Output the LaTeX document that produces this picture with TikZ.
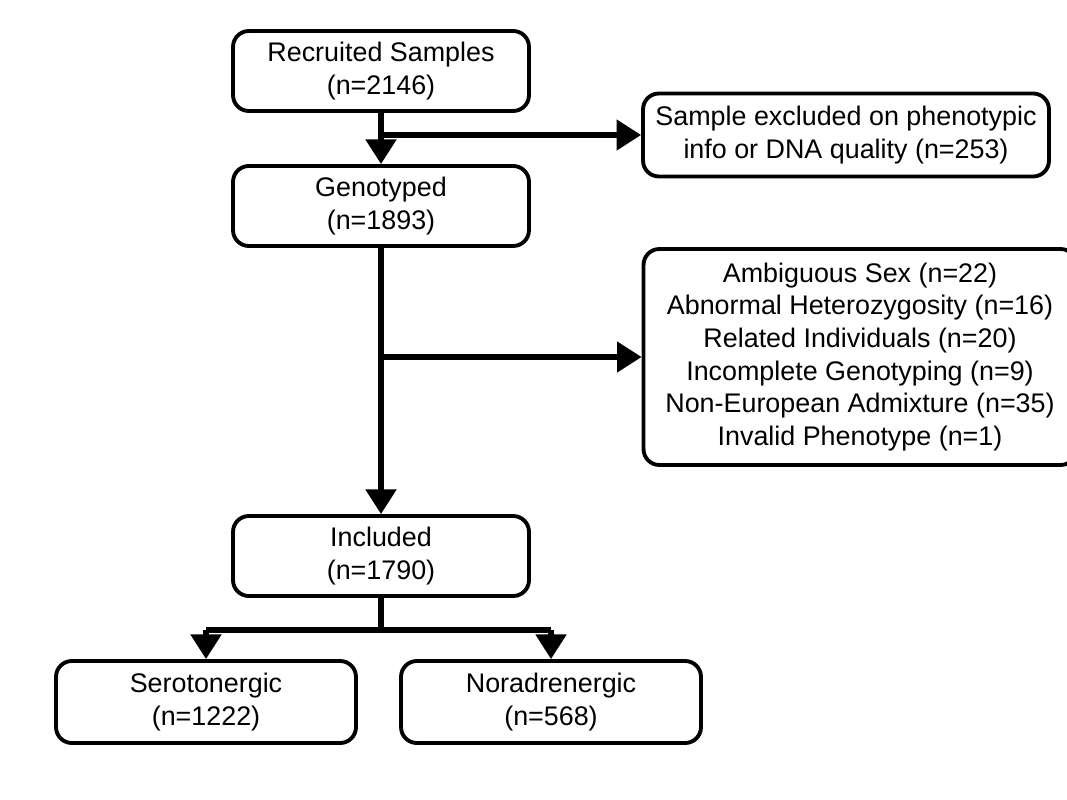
\documentclass[tikz,border=0pt]{standalone}
\usepackage{fontspec}
\setmainfont{Liberation Sans}
\usetikzlibrary{arrows.meta}
\begin{document}
\begin{tikzpicture}[x=0.02cm,y=-0.02cm,
  box/.style={draw, line width=2.2pt, rounded corners=9pt, align=center,
    font=\fontsize{15.3}{18.6}\selectfont, inner sep=0pt},
  flow/.style={line width=3pt},
  arr/.style={flow, -{Triangle[length=14pt,width=17pt]}}]

\useasboundingbox (0,0) rectangle (1067,800);

\node[box, minimum width=5.92cm, minimum height=1.6cm] (recruit) at (381,71) {Recruited Samples\\(n=2146)};
\node[box, minimum width=8.12cm, minimum height=1.66cm] (excl) at (846,135) {Sample excluded on phenotypic\\info or DNA quality (n=253)};
\node[box, minimum width=5.92cm, minimum height=1.6cm] (geno) at (381,206) {Genotyped\\(n=1893)};
\node[box, minimum width=8.66cm, minimum height=4.32cm] (qc) at (860,357) {Ambiguous Sex (n=22)\\Abnormal Heterozygosity (n=16)\\Related Individuals (n=20)\\Incomplete Genotyping (n=9)\\Non-European Admixture (n=35)\\Invalid Phenotype (n=1)};
\node[box, minimum width=5.92cm, minimum height=1.6cm] (incl) at (381,556) {Included\\(n=1790)};
\node[box, minimum width=6cm, minimum height=1.64cm] (sero) at (206,702) {Serotonergic\\(n=1222)};
\node[box, minimum width=6cm, minimum height=1.64cm] (nora) at (551,702) {Noradrenergic\\(n=568)};

\coordinate (b1) at (381,135);
\coordinate (b2) at (381,357);
\coordinate (b3) at (381,630);

\draw[arr] (recruit) -- (geno);
\draw[arr] (b1) -- (excl.west |- b1);
\draw[arr] (geno) -- (incl);
\draw[arr] (b2) -- (qc.west |- b2);
\draw[flow] (incl) -- (b3);
\draw[flow] (sero.north |- b3) -- (nora.north |- b3);
\draw[arr] (sero.north |- b3) -- (sero);
\draw[arr] (nora.north |- b3) -- (nora);

\end{tikzpicture}
\end{document}
